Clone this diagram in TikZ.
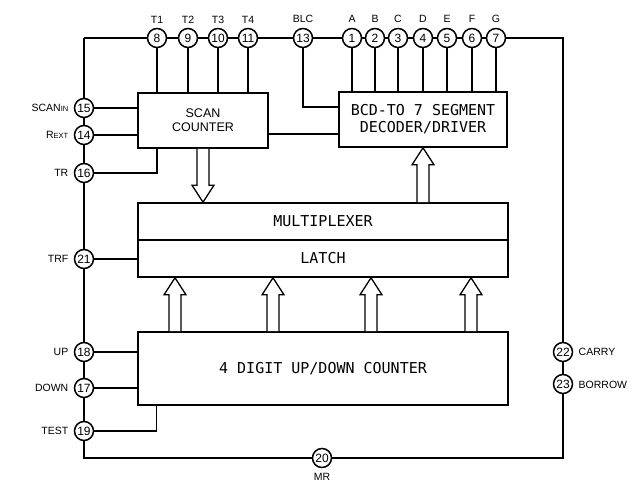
\documentclass[tikz,border=0pt]{standalone}
\usepackage{fontspec}
\setmainfont{Liberation Sans}
\newfontfamily\monof{DejaVu Sans Mono}
\usetikzlibrary{calc}
\tikzset{
  pin/.style={circle,draw,line width=1.5pt,fill=white,minimum size=19pt,inner sep=0pt,font=\fontsize{12}{12}\selectfont},
  lbl/.style={inner sep=0pt,font=\fontsize{10.5}{10.5}\selectfont},
  blk/.style={draw,line width=1.6pt,inner sep=0pt,align=center},
  bigtxt/.style={font=\monof\fontsize{15}{17}\selectfont},
  fat/.style={draw,line width=1.3pt,fill=white,line join=miter},
}
\newcommand\fatup[2]{%
  \path[fat] let \p1=#1, \p2=#2 in
   (\x1-6pt,\y1) -- (\x1-6pt,\y2-17pt) -- (\x1-11pt,\y2-17pt) -- (\x2,\y2)
   -- (\x1+11pt,\y2-17pt) -- (\x1+6pt,\y2-17pt) -- (\x1+6pt,\y1);}
\newcommand\fatdown[2]{%
  \path[fat] let \p1=#1, \p2=#2 in
   (\x1-6pt,\y1) -- (\x1-6pt,\y2+17pt) -- (\x1-11pt,\y2+17pt) -- (\x2,\y2)
   -- (\x1+11pt,\y2+17pt) -- (\x1+6pt,\y2+17pt) -- (\x1+6pt,\y1);}
\begin{document}
\begin{tikzpicture}[x=1pt,y=-1pt,line width=1.4pt]
\useasboundingbox (0,0) rectangle (636,484);
% corners
\coordinate (tl) at (84,38);
\coordinate (tr) at (563,38);
\coordinate (bl) at (84,458);
\coordinate (br) at (563,458);
% blocks
\node[blk,minimum width=130pt,minimum height=55pt,font=\fontsize{12.5}{14}\selectfont] (sc) at (203,120.5) {SCAN\\COUNTER};
\node[blk,bigtxt,minimum width=168pt,minimum height=55pt] (dec) at (423,119.5) {BCD-TO 7 SEGMENT\\DECODER/DRIVER};
\node[blk,bigtxt,minimum width=370pt,minimum height=37pt] (mux) at (323,221.5) {MULTIPLEXER};
\node[blk,bigtxt,minimum width=370pt,minimum height=37pt] (lat) at (323,258.5) {LATCH};
\node[blk,bigtxt,minimum width=370pt,minimum height=73pt] (cnt) at (323,368.5) {4 DIGIT UP/DOWN COUNTER};
% top pins
\node[pin] (p8) at (157,38) {8};
\node[pin] (p9) at (188,38) {9};
\node[pin] (p10) at (218,38) {10};
\node[pin] (p11) at (248,38) {11};
\node[pin] (p13) at (303,38) {13};
\node[pin] (p1) at (352,38) {1};
\node[pin] (p2) at (375,38) {2};
\node[pin] (p3) at (398,38) {3};
\node[pin] (p4) at (423,38) {4};
\node[pin] (p5) at (447,38) {5};
\node[pin] (p6) at (472,38) {6};
\node[pin] (p7) at (496,38) {7};
% left pins
\node[pin] (p15) at (84,108) {15};
\node[pin] (p14) at (84,135) {14};
\node[pin] (p16) at (84,173) {16};
\node[pin] (p21) at (84,259) {21};
\node[pin] (p18) at (84,352) {18};
\node[pin] (p17) at (84,388) {17};
\node[pin] (p19) at (84,431) {19};
% right and bottom pins
\node[pin] (p22) at (563,352) {22};
\node[pin] (p23) at (563,384) {23};
\node[pin] (p20) at (322,458) {20};
% rails
\draw (tl) -- (p8) -- (p9) -- (p10) -- (p11) -- (p13) -- (p1) -- (p2) -- (p3) -- (p4) -- (p5) -- (p6) -- (p7) -- (tr) -- (p22) -- (p23) -- (br) -- (p20) -- (bl) -- (p19) -- (p17) -- (p18) -- (p21) -- (p16) -- (p14) -- (p15) -- (tl);
% pin connections
\foreach \p in {p8,p9,p10,p11} \draw (\p) -- (\p |- sc.north);
\foreach \p in {p1,p2,p3,p4,p5,p6,p7} \draw (\p) -- (\p |- dec.north);
\draw (p15) -- (p15 -| sc.west);
\draw (p14) -- (p14 -| sc.west);
\draw (p16) -| (p8 |- sc.south);
\draw (p13) |- ([yshift=12.5pt]dec.west);
\draw ([yshift=-13.5pt]sc.east) -- ([yshift=-13.5pt]sc.east -| dec.west);
\draw (p21) -- (p21 -| lat.west);
\draw (p18) -- (p18 -| cnt.west);
\draw (p17) -- (p17 -| cnt.west);
\draw (p19) -| ([xshift=19pt]cnt.south west);
% fat arrows
\fatdown{(sc.south)}{(sc.south |- mux.north)}
\fatup{(dec.south |- mux.north)}{(dec.south)}
\foreach \dx in {-148,-50,48,148}
  \fatup{([xshift=\dx pt]cnt.north)}{([xshift=\dx pt]lat.south)};
% labels
\node[lbl] (lT1) at (157,20) {T1};
\node[lbl] (lT2) at (188,20) {T2};
\node[lbl] (lT3) at (218,20) {T3};
\node[lbl] (lT4) at (248,20) {T4};
\node[lbl] (lBLC) at (303,19) {BLC};
\node[lbl] (lA) at (352,19) {A};
\node[lbl] (lB) at (375,19) {B};
\node[lbl] (lC) at (398,19) {C};
\node[lbl] (lD) at (423,19) {D};
\node[lbl] (lE) at (447,19) {E};
\node[lbl] (lF) at (472,19) {F};
\node[lbl] (lG) at (496,19) {G};
\node[lbl,anchor=east] (lscan) at (69,108) {SCAN{\fontsize{7.5}{8}\selectfont IN}};
\node[lbl,anchor=east] (lrext) at (69,135) {R{\fontsize{7.5}{8}\selectfont EXT}};
\node[lbl,anchor=east] (ltr) at (69,173) {TR};
\node[lbl,anchor=east] (ltrf) at (69,259) {TRF};
\node[lbl,anchor=east] (lup) at (69,352) {UP};
\node[lbl,anchor=east] (ldown) at (69,388) {DOWN};
\node[lbl,anchor=east] (ltest) at (69,431) {TEST};
\node[lbl,anchor=west] (lcarry) at (578,352) {CARRY};
\node[lbl,anchor=west] (lborrow) at (578,385) {BORROW};
\node[lbl] (lmr) at (322,477) {MR};
\end{tikzpicture}
\end{document}
